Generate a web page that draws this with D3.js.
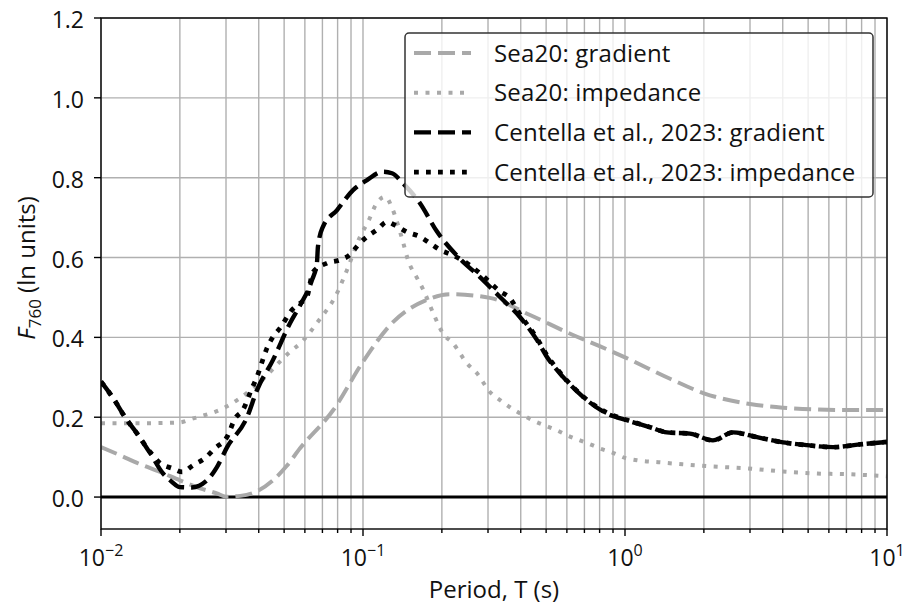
<!DOCTYPE html>
<html><head><meta charset="utf-8">
<script src="https://cdn.jsdelivr.net/npm/d3@7"></script>
<style>body{margin:0;background:#fff} text{font-family:"Open Sans", "Noto Sans", sans-serif; fill:#111}</style>
</head><body><svg id="c" width="907" height="607"></svg>
<script>
// ---- data: [period T (s), F760 (ln units)] ----
const sea20Gradient = [[0.01,0.125],[0.0118,0.105],[0.0139,0.084],[0.0168,0.063],[0.02,0.042],[0.0239,0.022],[0.0277,0.009],[0.03,0.001],[0.034,0.003],[0.039,0.013],[0.045,0.040],[0.051,0.077],[0.0575,0.122],[0.077,0.218],[0.1,0.339],[0.127,0.431],[0.175,0.494],[0.215,0.508],[0.305,0.499],[0.434,0.456],[0.633,0.406],[0.8,0.378],[1.0,0.35],[1.5,0.295],[2.0,0.26],[3.0,0.233],[4.0,0.224],[7.0,0.218],[10,0.218]];
const sea20Impedance = [[0.01,0.185],[0.015,0.185],[0.02,0.187],[0.022,0.195],[0.03,0.226],[0.0386,0.276],[0.0527,0.364],[0.0585,0.389],[0.0667,0.436],[0.0796,0.511],[0.0869,0.569],[0.0974,0.652],[0.1045,0.689],[0.113,0.737],[0.1213,0.752],[0.129,0.725],[0.1349,0.689],[0.1421,0.639],[0.1485,0.594],[0.1607,0.549],[0.1694,0.521],[0.185,0.462],[0.2019,0.41],[0.2206,0.385],[0.2494,0.335],[0.2723,0.31],[0.3053,0.263],[0.3334,0.243],[0.364,0.225],[0.397,0.21],[0.445,0.192],[0.50,0.178],[0.55,0.167],[0.60,0.155],[0.673,0.142],[0.75,0.13],[0.80,0.122],[0.891,0.112],[1.0,0.098],[1.112,0.092],[1.36,0.087],[1.66,0.082],[2.11,0.077],[2.92,0.072],[4.01,0.064],[5.41,0.059],[7.22,0.057],[10,0.052]];
const centellaGradient = [[0.01,0.289],[0.0112,0.245],[0.01235,0.2],[0.0137,0.16],[0.0154,0.11],[0.01725,0.059],[0.0185,0.04],[0.02,0.025],[0.0222,0.024],[0.0254,0.042],[0.0277,0.075],[0.0303,0.125],[0.0361,0.2],[0.0394,0.268],[0.0453,0.343],[0.0527,0.436],[0.0575,0.48],[0.0639,0.544],[0.0667,0.586],[0.0673,0.627],[0.0703,0.677],[0.0796,0.719],[0.0916,0.769],[0.1036,0.794],[0.1192,0.815],[0.129,0.811],[0.1421,0.786],[0.165,0.736],[0.1916,0.665],[0.2345,0.597],[0.2796,0.551],[0.3334,0.501],[0.397,0.451],[0.4617,0.393],[0.5038,0.351],[0.58,0.301],[0.6915,0.251],[0.854,0.209],[1.018,0.192],[1.246,0.175],[1.445,0.162],[1.77,0.159],[2.166,0.142],[2.585,0.162],[3.19,0.15],[4.01,0.137],[4.95,0.13],[6.22,0.125],[7.88,0.132],[10,0.138]];
const centellaImpedance = [[0.01,0.289],[0.0112,0.245],[0.01235,0.2],[0.0137,0.16],[0.0154,0.113],[0.0168,0.085],[0.0187,0.072],[0.0204,0.063],[0.0225,0.08],[0.0249,0.097],[0.0272,0.122],[0.0303,0.151],[0.0325,0.197],[0.0348,0.218],[0.0377,0.273],[0.0394,0.301],[0.0412,0.339],[0.043,0.373],[0.0453,0.401],[0.0482,0.423],[0.0536,0.469],[0.0585,0.489],[0.061,0.50],[0.0645,0.564],[0.0729,0.586],[0.0817,0.594],[0.0892,0.607],[0.0957,0.631],[0.1036,0.652],[0.113,0.669],[0.1235,0.689],[0.1325,0.681],[0.1472,0.664],[0.165,0.652],[0.18,0.636],[0.1968,0.619],[0.2187,0.607],[0.25,0.585],[0.28,0.56],[0.3334,0.515],[0.364,0.498],[0.397,0.458],[0.4617,0.397],[0.5038,0.355],[0.58,0.303],[0.6915,0.252],[0.854,0.211],[1.018,0.193],[1.246,0.175],[1.445,0.162],[1.77,0.159],[2.166,0.142],[2.585,0.162],[3.19,0.15],[4.01,0.137],[4.95,0.13],[6.22,0.125],[7.88,0.132],[10,0.138]];
const seriesLabels = ["Sea20: gradient","Sea20: impedance","Centella et al., 2023: gradient","Centella et al., 2023: impedance"];
const yTickValues = [0.0,0.2,0.4,0.6,0.8,1.0,1.2];
const xTickExponents = [-2,-1,0,1];

// ---- layout ----
const svg = d3.select("#c");
const L=101, R=887, T=18, B=529;
const x = d3.scaleLog().domain([0.01,10]).range([L,R]);
const y = d3.scaleLinear().domain([-0.08,1.2]).range([B,T]);

const styles = [
  {stroke:"#a9a9a9", w:4, dash:"17,7"},
  {stroke:"#a9a9a9", w:4, dash:"4,7.5"},
  {stroke:"#000", w:4.4, dash:"17,7"},
  {stroke:"#000", w:4.8, dash:"4.8,7.2"}
];
const allSeries = [sea20Gradient, sea20Impedance, centellaGradient, centellaImpedance];

svg.append("defs").append("clipPath").attr("id","clip")
  .append("rect").attr("x",L).attr("y",T).attr("width",R-L).attr("height",B-T);

// grid
const minor = [];
for (let e=-2;e<=0;e++) for (let k=1;k<=9;k++) minor.push(k*Math.pow(10,e));
minor.push(10);
const grid = svg.append("g").attr("stroke","#b0b0b0").attr("stroke-width",1.4);
grid.selectAll("line.v").data(minor).join("line")
  .attr("x1",d=>x(d)).attr("x2",d=>x(d)).attr("y1",T).attr("y2",B);
grid.selectAll("line.h").data(yTickValues).join("line")
  .attr("x1",L).attr("x2",R).attr("y1",d=>y(d)).attr("y2",d=>y(d));

// zero line
svg.append("line").attr("x1",L).attr("x2",R).attr("y1",y(0)).attr("y2",y(0))
  .attr("stroke","#000").attr("stroke-width",3);

// series
const line = d3.line().x(d=>x(d[0])).y(d=>y(d[1])).curve(d3.curveMonotoneX);
const gl = svg.append("g").attr("clip-path","url(#clip)");
allSeries.forEach((s,i)=>{
  gl.append("path").attr("d",line(s)).attr("fill","none")
    .attr("stroke",styles[i].stroke).attr("stroke-width",styles[i].w)
    .attr("stroke-dasharray",styles[i].dash);
});

// axes frame
svg.append("rect").attr("x",L).attr("y",T).attr("width",R-L).attr("height",B-T)
  .attr("fill","none").attr("stroke","#000").attr("stroke-width",1.4);

// x ticks
const xt = svg.append("g").attr("stroke","#000").attr("stroke-width",1.4);
xt.selectAll("line.mj").data(xTickExponents).join("line")
  .attr("x1",e=>x(Math.pow(10,e))).attr("x2",e=>x(Math.pow(10,e))).attr("y1",B).attr("y2",B+7);
xt.selectAll("line.mn").data(minor.filter(d=>Math.abs(Math.log10(d)-Math.round(Math.log10(d)))>1e-9)).join("line")
  .attr("x1",d=>x(d)).attr("x2",d=>x(d)).attr("y1",B).attr("y2",B+4);
xTickExponents.forEach(e=>{
  const t = svg.append("text").attr("x",x(Math.pow(10,e))).attr("y",566)
    .attr("text-anchor","middle").attr("font-size",23);
  t.append("tspan").text("10");
  t.append("tspan").attr("font-size",16).attr("dy",-10).text(e<0?"\u2212"+(-e):String(e));
});

// y ticks
const yt = svg.append("g");
yt.selectAll("line").data(yTickValues).join("line")
  .attr("x1",L-7).attr("x2",L).attr("y1",d=>y(d)).attr("y2",d=>y(d))
  .attr("stroke","#000").attr("stroke-width",1.4);
yt.selectAll("text").data(yTickValues).join("text")
  .attr("x",84).attr("y",d=>y(d)+10).attr("text-anchor","end").attr("font-size",23)
  .text(d=>d3.format(".1f")(d));

// axis labels
svg.append("text").attr("x",(L+R)/2).attr("y",598).attr("text-anchor","middle")
  .attr("font-size",24).text("Period, T (s)");
const yl = svg.append("text").attr("transform","translate(35,268) rotate(-90)")
  .attr("text-anchor","middle").attr("font-size",24);
yl.append("tspan").attr("font-style","italic").text("F");
yl.append("tspan").attr("font-size",17).attr("dy",6).text("760");
yl.append("tspan").attr("dy",-6).text(" (ln units)");

// legend
const lg = svg.append("g");
lg.append("rect").attr("x",405).attr("y",33).attr("width",468).attr("height",164)
  .attr("rx",4).attr("fill","#fff").attr("fill-opacity",0.8)
  .attr("stroke","#333").attr("stroke-width",1.5);
seriesLabels.forEach((lab,i)=>{
  const cy = 53 + i*39.7;
  lg.append("line").attr("x1",414).attr("x2",471).attr("y1",cy).attr("y2",cy)
    .attr("stroke",styles[i].stroke).attr("stroke-width",styles[i].w)
    .attr("stroke-dasharray",styles[i].dash);
  lg.append("text").attr("x",494).attr("y",cy+8.5).attr("font-size",24)
    .attr("letter-spacing",0.2).text(lab);
});
</script></body></html>
